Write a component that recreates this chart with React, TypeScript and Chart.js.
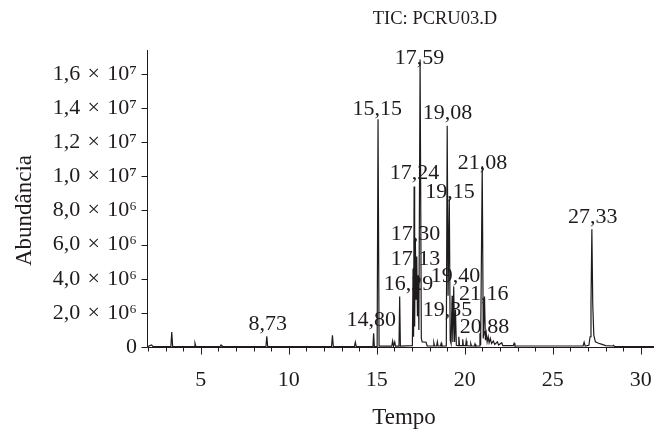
import React, { useEffect, useRef } from "react";
import { Chart, registerables } from "chart.js";

Chart.register(...registerables);

const chartTitle = "TIC: PCRU03.D";
const xAxisTitle = "Tempo";
const yAxisTitle = "Abundância";

// Chromatogram trace (retention time in min, abundance in counts)
const retentionTime = [
  2.0, 2.2, 2.28, 3.3, 3.35, 3.4, 4.62, 4.67, 4.72, 6.1, 6.15, 6.2,
  8.7, 8.75, 8.8, 12.43, 12.48, 12.53, 13.73, 13.78, 13.83,
  14.78, 14.82, 14.86, 15.02, 15.07, 15.13, 15.85, 15.9, 15.95, 16.02, 16.06,
  16.26, 16.3, 16.34,
  17.02, 17.06, 17.09, 17.12, 17.15, 17.19, 17.23, 17.27, 17.31, 17.35, 17.39,
  17.46, 17.53, 17.58, 17.8, 17.86,
  18.2, 18.24, 18.28, 18.4, 18.44, 18.48, 18.62, 18.66, 18.7,
  18.95, 19.0, 19.05, 19.12, 19.17, 19.22, 19.28, 19.32, 19.37, 19.42, 19.47, 19.52,
  19.62, 19.66, 19.7, 19.85, 19.88, 19.92, 20.05, 20.08, 20.12,
  20.3, 20.34, 20.38, 20.55, 20.58, 20.62,
  20.82, 20.86, 20.9, 20.99, 21.05, 21.12, 21.17, 21.22, 21.27, 21.33, 21.38,
  21.45, 21.52, 21.62, 21.7, 21.85, 21.92, 22.1, 22.16,
  22.75, 22.8, 22.85, 26.72, 26.78, 26.84,
  27.05, 27.12, 27.17, 27.22, 27.27, 27.33, 27.42, 27.6, 27.8, 28.0,
  28.4, 28.45, 28.5, 30.75,
];
const abundance = [
  0.03e6, 0.12e6, 0.03e6, 0.03e6, 0.88e6, 0.03e6, 0.03e6, 0.22e6, 0.03e6, 0.03e6, 0.12e6, 0.03e6,
  0.03e6, 0.62e6, 0.03e6, 0.03e6, 0.68e6, 0.03e6, 0.03e6, 0.28e6, 0.03e6,
  0.03e6, 0.8e6, 0.03e6, 0.03e6, 13.35e6, 0.05e6, 0.05e6, 0.35e6, 0.05e6, 0.3e6, 0.05e6,
  0.05e6, 2.96e6, 0.05e6,
  0.08e6, 4.6e6, 0.6e6, 9.4e6, 1.2e6, 6.4e6, 2.8e6, 5.3e6, 1.8e6, 4.2e6, 1.0e6,
  16.85e6, 0.5e6, 0.3e6, 0.28e6, 0.06e6,
  0.06e6, 0.25e6, 0.06e6, 0.06e6, 0.3e6, 0.06e6, 0.06e6, 0.22e6, 0.06e6,
  0.06e6, 12.96e6, 3.0e6, 8.7e6, 0.4e6, 0.2e6, 3.0e6, 0.3e6, 3.55e6, 0.3e6, 2.2e6, 0.1e6,
  0.08e6, 0.6e6, 0.08e6, 0.08e6, 0.45e6, 0.08e6, 0.08e6, 0.35e6, 0.08e6,
  0.06e6, 0.2e6, 0.06e6, 0.06e6, 0.18e6, 0.06e6,
  0.06e6, 0.8e6, 0.1e6, 10.6e6, 0.5e6, 2.96e6, 0.4e6, 0.8e6, 0.3e6, 0.6e6, 0.25e6,
  0.5e6, 0.2e6, 0.35e6, 0.15e6, 0.3e6, 0.12e6, 0.25e6, 0.08e6,
  0.08e6, 0.22e6, 0.06e6, 0.06e6, 0.28e6, 0.06e6,
  0.1e6, 0.6e6, 2.5e6, 6.9e6, 2.5e6, 0.7e6, 0.3e6, 0.22e6, 0.15e6, 0.08e6,
  0.06e6, 0.1e6, 0.04e6, 0.03e6,
];

// Peak annotations: text, anchor time, anchor abundance (baseline of text)
const peakLabelText = [
  "17,59", "15,15", "19,08", "21,08", "17,24", "19,15", "17,30", "17,13",
  "16,29", "19,40", "21,16", "19,35", "14,80", "20,88", "8,73", "27,33",
];
const peakLabelTime = [
  17.42, 15.03, 19.02, 21.01, 17.14, 19.16, 17.2, 17.2,
  16.8, 19.47, 21.07, 19.02, 14.69, 21.12, 8.8, 27.27,
];
const peakLabelAbundance = [
  16.6e6, 13.6e6, 13.36e6, 10.43e6, 9.82e6, 8.73e6, 6.26e6, 4.79e6,
  3.33e6, 3.8e6, 2.74e6, 1.8e6, 1.21e6, 0.8e6, 0.98e6, 7.26e6,
];

const xTickValues = [5, 10, 15, 20, 25, 30];
const xMinorTickValues = [
  2, 3, 4, 5, 6, 7, 8, 9, 10, 11, 12, 13, 14, 15, 16, 17, 18, 19, 20,
  21, 22, 23, 24, 25, 26, 27, 28, 29, 30,
];
const yTickValues = [0, 2e6, 4e6, 6e6, 8e6, 10e6, 12e6, 14e6, 16e6];
const yTickLabels = [
  "0", "2,0\u2004×\u200410⁶", "4,0\u2004×\u200410⁶", "6,0\u2004×\u200410⁶", "8,0\u2004×\u200410⁶",
  "1,0\u2004×\u200410⁷", "1,2\u2004×\u200410⁷", "1,4\u2004×\u200410⁷", "1,6\u2004×\u200410⁷",
];

const INK = "#1f1b1c";
const SERIF = "'Liberation Serif', 'DejaVu Serif', serif";

const decorPlugin = {
  id: "decor",
  afterDraw(chart: any) {
    const { ctx, chartArea, scales } = chart;
    const xs = scales.x;
    const ys = scales.y;
    ctx.save();
    ctx.strokeStyle = INK;
    ctx.lineWidth = 1;
    const left = Math.round(chartArea.left) - 0.5;
    const bottom = Math.round(chartArea.bottom) + 0.5;
    ctx.beginPath();
    ctx.moveTo(left, chartArea.top);
    ctx.lineTo(left, bottom);
    ctx.moveTo(left, bottom);
    ctx.lineTo(chart.width, bottom);
    yTickValues.forEach((v) => {
      const py = Math.round(ys.getPixelForValue(v)) + 0.5;
      ctx.moveTo(left - 6, py);
      ctx.lineTo(left, py);
    });
    xMinorTickValues.forEach((v) => {
      const px = Math.round(xs.getPixelForValue(v)) + 0.5;
      const major = xTickValues.includes(v);
      ctx.moveTo(px, bottom);
      ctx.lineTo(px, bottom + (major ? 7 : 4));
    });
    ctx.stroke();

    ctx.fillStyle = INK;
    // peak labels
    ctx.font = `22px ${SERIF}`;
    ctx.textAlign = "center";
    ctx.textBaseline = "alphabetic";
    peakLabelText.forEach((t, i) => {
      ctx.fillText(t, xs.getPixelForValue(peakLabelTime[i]), ys.getPixelForValue(peakLabelAbundance[i]));
    });
    // title
    ctx.font = `18.5px ${SERIF}`;
    ctx.fillText(chartTitle, 435, 24);
    // x title
    ctx.font = `23px ${SERIF}`;
    ctx.fillText(xAxisTitle, (chartArea.left + chartArea.right) / 2 + 3, 424);
    // y title
    ctx.save();
    ctx.translate(31, 210.5);
    ctx.rotate(-Math.PI / 2);
    ctx.fillText(yAxisTitle, 0, 0);
    ctx.restore();
    ctx.restore();
  },
};

export default function App() {
  const canvasRef = useRef<HTMLCanvasElement | null>(null);

  useEffect(() => {
    const canvas = canvasRef.current;
    if (!canvas) return;
    const data = retentionTime.map((t, i) => ({ x: t, y: abundance[i] }));
    const chart = new Chart(canvas, {
      type: "line",
      data: {
        datasets: [
          {
            label: chartTitle,
            data,
            borderColor: INK,
            borderWidth: 1.2,
            pointRadius: 0,
            tension: 0,
            fill: false,
          },
        ],
      },
      options: {
        animation: false,
        responsive: false,
        devicePixelRatio: 1,
        layout: { padding: { top: 50, left: 0, right: 0, bottom: 0 } },
        plugins: { legend: { display: false }, tooltip: { enabled: false }, title: { display: false } },
        scales: {
          x: {
            type: "linear",
            min: 2,
            max: 30.75,
            grid: { display: false, drawTicks: false },
            border: { display: false },
            ticks: {
              autoSkip: false,
              maxRotation: 0,
              padding: 20,
              color: INK,
              font: { family: SERIF, size: 22 },
              callback: (v: any) => String(v),
            },
            afterBuildTicks: (s: any) => {
              s.ticks = xTickValues.map((v) => ({ value: v }));
            },
            afterFit: (s: any) => {
              s.height = 84;
              s.paddingLeft = 0;
              s.paddingRight = 0;
            },
          },
          y: {
            type: "linear",
            min: 0,
            max: 17.4e6,
            grid: { display: false, drawTicks: false },
            border: { display: false },
            ticks: {
              autoSkip: false,
              padding: 11,
              color: INK,
              font: { family: SERIF, size: 22 },
              callback: (_v: any, i: number) => yTickLabels[i],
            },
            afterBuildTicks: (s: any) => {
              s.ticks = yTickValues.map((v) => ({ value: v }));
            },
            afterFit: (s: any) => {
              s.width = 148;
              s.paddingTop = 0;
              s.paddingBottom = 0;
            },
          },
        },
      },
      plugins: [decorPlugin],
    });
    return () => chart.destroy();
  }, []);

  return (
    <div style={{ position: "fixed", left: 0, top: 0, width: 654, height: 431, background: "#fff" }}>
      <canvas ref={canvasRef} width={654} height={431} style={{ display: "block" }} />
    </div>
  );
}
